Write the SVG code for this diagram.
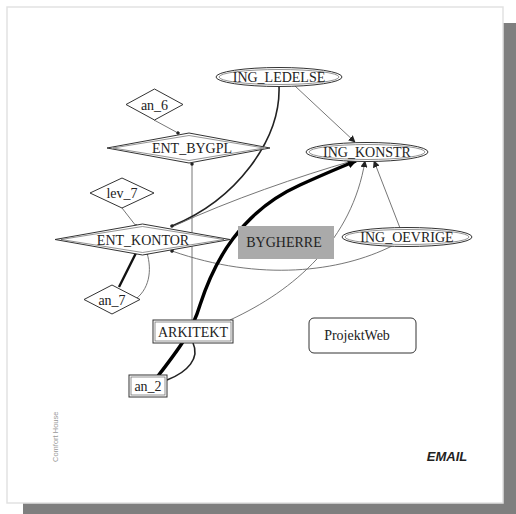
<svg xmlns="http://www.w3.org/2000/svg" width="516" height="514" viewBox="0 0 516 514">
  <style>
    .lbl { font-family: 'Liberation Serif', 'Times New Roman', serif; font-size: 14px; fill: #222; text-anchor: middle; }
    .shape { fill: #fff; stroke: #333; stroke-width: 1; }
    .inner { fill: none; stroke: #666; stroke-width: 0.7; }
    .thin { fill: none; stroke: #666; stroke-width: 0.9; }
    .mid { fill: none; stroke: #222; stroke-width: 1.6; }
    .bold { fill: none; stroke: #111; stroke-width: 2.4; }
    .heavy { fill: none; stroke: #000; stroke-width: 3.4; }
  </style>
  <defs>
    <marker id="dot" viewBox="0 0 6 6" refX="3" refY="3" markerWidth="4" markerHeight="4" markerUnits="userSpaceOnUse" orient="auto">
      <circle cx="3" cy="3" r="2.6" fill="#222"/>
    </marker>
    <marker id="tri" viewBox="0 0 10 10" refX="9" refY="5" markerWidth="7" markerHeight="7" markerUnits="userSpaceOnUse" orient="auto">
      <path d="M0,0 L10,5 L0,10 z" fill="#222"/>
    </marker>
    <marker id="trib" viewBox="0 0 10 10" refX="9" refY="5" markerWidth="9" markerHeight="9" markerUnits="userSpaceOnUse" orient="auto">
      <path d="M0,0 L10,5 L0,10 z" fill="#000"/>
    </marker>
  </defs>

  <!-- page with drop shadow -->
  <rect x="23" y="23" width="493" height="491" fill="#7f7f7f"/>
  <rect x="7" y="7" width="496" height="496" fill="#fff" stroke="#e2e2e2" stroke-width="1.5"/>

  <!-- connectors -->
  <g id="edges">
    <path class="thin" d="M154,120 L178,133" marker-end="url(#dot)"/>
    <path class="thin" d="M122,208 L136,226" marker-end="url(#dot)"/>
    <path class="thin" d="M192,320 L192,164" marker-end="url(#dot)" stroke="#999"/>
    <path class="mid" d="M279,86 C281,140 236,200 172,226" marker-end="url(#dot)"/>
    <path class="thin" d="M295,86 L355,142" marker-end="url(#tri)"/>
    <path class="thin" d="M174,226 C230,200 300,176 352,161"/>
    <path class="thin" d="M400,228 L374,161" marker-end="url(#tri)"/>
    <path class="thin" d="M230,320 C295,290 352,240 365,161" marker-end="url(#tri)"/>
    <path class="thin" d="M392,246 C340,272 260,282 172,251" marker-end="url(#dot)"/>
    <path class="heavy" d="M158,376 C178,350 192,332 200,305 C214,262 240,212 300,185 C320,176 338,168 356,161" marker-end="url(#trib)"/>
    <path class="mid" d="M167,380 C188,372 200,358 193,343"/>
    <path class="bold" d="M119,287 L136,253"/>
    <path class="thin" d="M133,301 C150,290 152,270 147,253" marker-end="url(#dot)"/>
  </g>

  <!-- nodes -->
  <g font-family="'Liberation Serif', 'Times New Roman', serif">
    <g id="ING_LEDELSE">
      <ellipse class="shape" cx="279" cy="77" rx="63" ry="9.5"/>
      <ellipse class="inner" cx="279" cy="77" rx="60" ry="7.5"/>
      <text class="lbl" x="279" y="82">ING_LEDELSE</text>
    </g>
    <g id="ING_KONSTR">
      <ellipse class="shape" cx="367" cy="152" rx="61" ry="9.5"/>
      <ellipse class="inner" cx="367" cy="152" rx="58" ry="7.5"/>
      <text class="lbl" x="367" y="157">ING_KONSTR</text>
    </g>
    <g id="ING_OEVRIGE">
      <ellipse class="shape" cx="407" cy="237" rx="65" ry="9.5"/>
      <ellipse class="inner" cx="407" cy="237" rx="62" ry="7.5"/>
      <text class="lbl" x="407" y="242">ING_OEVRIGE</text>
    </g>
    <g id="an_6">
      <polygon class="shape" points="154.5,89 183,104.5 154.5,120 126,104.5"/>
      <text class="lbl" x="154.5" y="109.5">an_6</text>
    </g>
    <g id="ENT_BYGPL">
      <polygon class="shape" points="189,133 270,148 189,163 107,148"/>
      <polygon class="inner" points="189,135.5 264,148 189,160.5 113,148"/>
      <text class="lbl" x="192" y="153">ENT_BYGPL</text>
    </g>
    <g id="lev_7">
      <polygon class="shape" points="122,178 154,193 122,208 90,193"/>
      <text class="lbl" x="122" y="198">lev_7</text>
    </g>
    <g id="ENT_KONTOR">
      <polygon class="shape" points="142.5,224 230,239.5 142.5,255 55,239.5"/>
      <polygon class="inner" points="142.5,226.5 224,239.5 142.5,252.5 61,239.5"/>
      <text class="lbl" x="143" y="244.5">ENT_KONTOR</text>
    </g>
    <g id="an_7">
      <polygon class="shape" points="112,285 140,299.5 112,314 84,299.5"/>
      <text class="lbl" x="112" y="304.5">an_7</text>
    </g>
    <g id="BYGHERRE">
      <rect x="238" y="226" width="96" height="33" fill="#aaaaaa"/>
      <text class="lbl" x="284" y="247">BYGHERRE</text>
    </g>
    <g id="ARKITEKT">
      <rect class="shape" x="153" y="320" width="80" height="23"/>
      <rect class="inner" x="155" y="322" width="76" height="19"/>
      <text class="lbl" x="193" y="336.5">ARKITEKT</text>
    </g>
    <g id="an_2">
      <rect class="shape" x="129" y="375" width="38" height="22"/>
      <rect class="inner" x="131" y="377" width="34" height="18"/>
      <text class="lbl" x="148" y="391">an_2</text>
    </g>
    <g id="ProjektWeb">
      <rect class="shape" x="309" y="318" width="107" height="35" rx="5" stroke-width="1.4"/>
      <text class="lbl" x="357" y="340">ProjektWeb</text>
    </g>
  </g>

  <!-- footer labels -->
  <text x="58" y="462" transform="rotate(-90 58 462)" font-family="'Liberation Sans', Arial, sans-serif" font-size="7.5" fill="#999">Comfort House</text>
  <text x="447" y="461" font-family="'Liberation Sans', Arial, sans-serif" font-size="13" font-weight="bold" font-style="italic" fill="#222" text-anchor="middle">EMAIL</text>
</svg>
